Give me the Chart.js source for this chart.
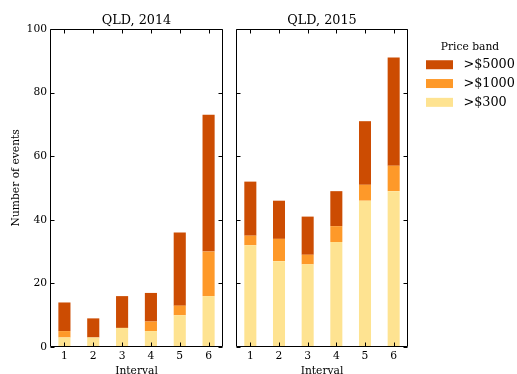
<!DOCTYPE html>
<html>
<head>
<meta charset="utf-8">
<script src="https://cdn.jsdelivr.net/npm/chart.js@4"></script>
<style>
  html, body { margin: 0; padding: 0; background: #ffffff; overflow: hidden; width: 517px; height: 374px; }
  .panel { position: absolute; top: 0; height: 374px; }
  #wrap2014 { left: 0; width: 230px; }
  #wrap2015 { left: 230px; width: 290px; }
</style>
</head>
<body>
<div class="panel" id="wrap2014"><canvas id="c2014"></canvas></div>
<div class="panel" id="wrap2015"><canvas id="c2015"></canvas></div>
<script>
// Event counts per interval, split by price band (stacked bottom-up)
const intervals = ['1', '2', '3', '4', '5', '6'];
const bandLabels = ['>$300', '>$1000', '>$5000'];
const bandColors = ['#fee391', '#fe9929', '#cc4c02'];

const qld2014_300  = [3, 3, 6, 5, 10, 16];
const qld2014_1000 = [2, 0, 0, 3, 3, 14];
const qld2014_5000 = [9, 6, 10, 9, 23, 43];

const qld2015_300  = [32, 27, 26, 33, 46, 49];
const qld2015_1000 = [3, 7, 3, 5, 5, 8];
const qld2015_5000 = [17, 12, 12, 11, 20, 34];

const yTickValues = [0, 20, 40, 60, 80, 100];

const FONT = "'DejaVu Serif', 'Liberation Serif', serif";
const TICK_SIZE = 10.7;
const TITLE_SIZE = 12.8;

Chart.defaults.font.family = FONT;
Chart.defaults.color = '#000000';
Chart.defaults.animation = false;

// Box frame with inward tick marks on all four sides
const framePlugin = {
  id: 'frameTicks',
  afterDatasetsDraw(chart) {
    const { ctx, chartArea: a, scales } = chart;
    const x = scales.x, y = scales.y;
    const len = 4;
    ctx.save();
    ctx.strokeStyle = '#000000';
    ctx.lineWidth = 1;
    const L = Math.round(a.left) + 0.5, R = Math.round(a.right) - 0.5;
    const T = Math.round(a.top) + 0.5, B = Math.round(a.bottom) - 0.5;
    ctx.beginPath();
    ctx.rect(L, T, R - L, B - T);
    ctx.stroke();
    ctx.beginPath();
    intervals.forEach((_, i) => {
      const px = Math.round(x.getPixelForValue(i)) + 0.5;
      ctx.moveTo(px, B); ctx.lineTo(px, B - len);
      ctx.moveTo(px, T); ctx.lineTo(px, T + len);
    });
    yTickValues.forEach(v => {
      const py = Math.round(y.getPixelForValue(v)) + 0.5;
      ctx.moveTo(L, py); ctx.lineTo(L + len, py);
      ctx.moveTo(R, py); ctx.lineTo(R - len, py);
    });
    ctx.stroke();
    ctx.restore();
  }
};

function makeDatasets(v300, v1000, v5000) {
  return [v300, v1000, v5000].map((vals, i) => ({
    label: bandLabels[i],
    data: vals,
    backgroundColor: bandColors[i],
    borderWidth: 0,
    categoryPercentage: 1.0,
    barPercentage: 0.42
  }));
}

function xAxis() {
  return {
    stacked: true,
    offset: true,
    grid: { display: false, drawTicks: false },
    border: { display: false },
    ticks: { font: { size: TICK_SIZE }, padding: 3, color: '#000' },
    title: { display: true, text: 'Interval', font: { size: TICK_SIZE }, color: '#000',
             padding: { top: 0, bottom: -3.6 } },
    afterFit(s) { s.height = 27; }
  };
}

function panelTitle(text) {
  return {
    display: true, text, fullSize: false,
    font: { size: TITLE_SIZE, weight: 'normal' }, color: '#000',
    padding: { top: 0, bottom: 0.6 }
  };
}

new Chart(document.getElementById('c2014'), {
  type: 'bar',
  data: { labels: intervals, datasets: makeDatasets(qld2014_300, qld2014_1000, qld2014_5000) },
  options: {
    responsive: true,
    maintainAspectRatio: false,
    layout: { padding: { top: 13, right: 7, left: 0, bottom: 0 } },
    plugins: {
      legend: { display: false },
      tooltip: { enabled: false },
      title: panelTitle('QLD, 2014')
    },
    scales: {
      x: xAxis(),
      y: {
        stacked: true, min: 0, max: 100,
        grid: { display: false, drawTicks: false },
        border: { display: false },
        ticks: { stepSize: 20, font: { size: TICK_SIZE }, padding: 3, color: '#000' },
        title: { display: true, text: '      Number of events', font: { size: TICK_SIZE }, color: '#000',
                 padding: { top: 9.6, bottom: 0 } },
        afterFit(s) { s.width = 50; }
      }
    }
  },
  plugins: [framePlugin]
});

new Chart(document.getElementById('c2015'), {
  type: 'bar',
  data: { labels: intervals, datasets: makeDatasets(qld2015_300, qld2015_1000, qld2015_5000) },
  options: {
    responsive: true,
    maintainAspectRatio: false,
    layout: { padding: { top: 13, right: 0, left: 6, bottom: 0 } },
    plugins: {
      legend: {
        position: 'right',
        align: 'start',
        reverse: true,
        maxWidth: 100,
        title: { display: true, text: 'Price band', font: { size: TICK_SIZE }, color: '#000',
                 padding: { top: 28.6, bottom: -2.1 } },
        labels: {
          boxWidth: 27, boxHeight: 9, padding: 6,
          font: { size: TITLE_SIZE }, color: '#000',
          generateLabels(chart) {
            const items = Chart.defaults.plugins.legend.labels.generateLabels(chart);
            return items.map(it => Object.assign(it, { text: ' ' + it.text, lineWidth: 0 }));
          }
        }
      },
      tooltip: { enabled: false },
      title: panelTitle('QLD, 2015')
    },
    scales: {
      x: xAxis(),
      y: {
        position: 'right',
        stacked: true, min: 0, max: 100,
        grid: { display: false, drawTicks: false },
        border: { display: false },
        ticks: { display: false, stepSize: 20 },
        afterFit(s) { s.width = 12; }
      }
    }
  },
  plugins: [framePlugin]
});
</script>
</body>
</html>
